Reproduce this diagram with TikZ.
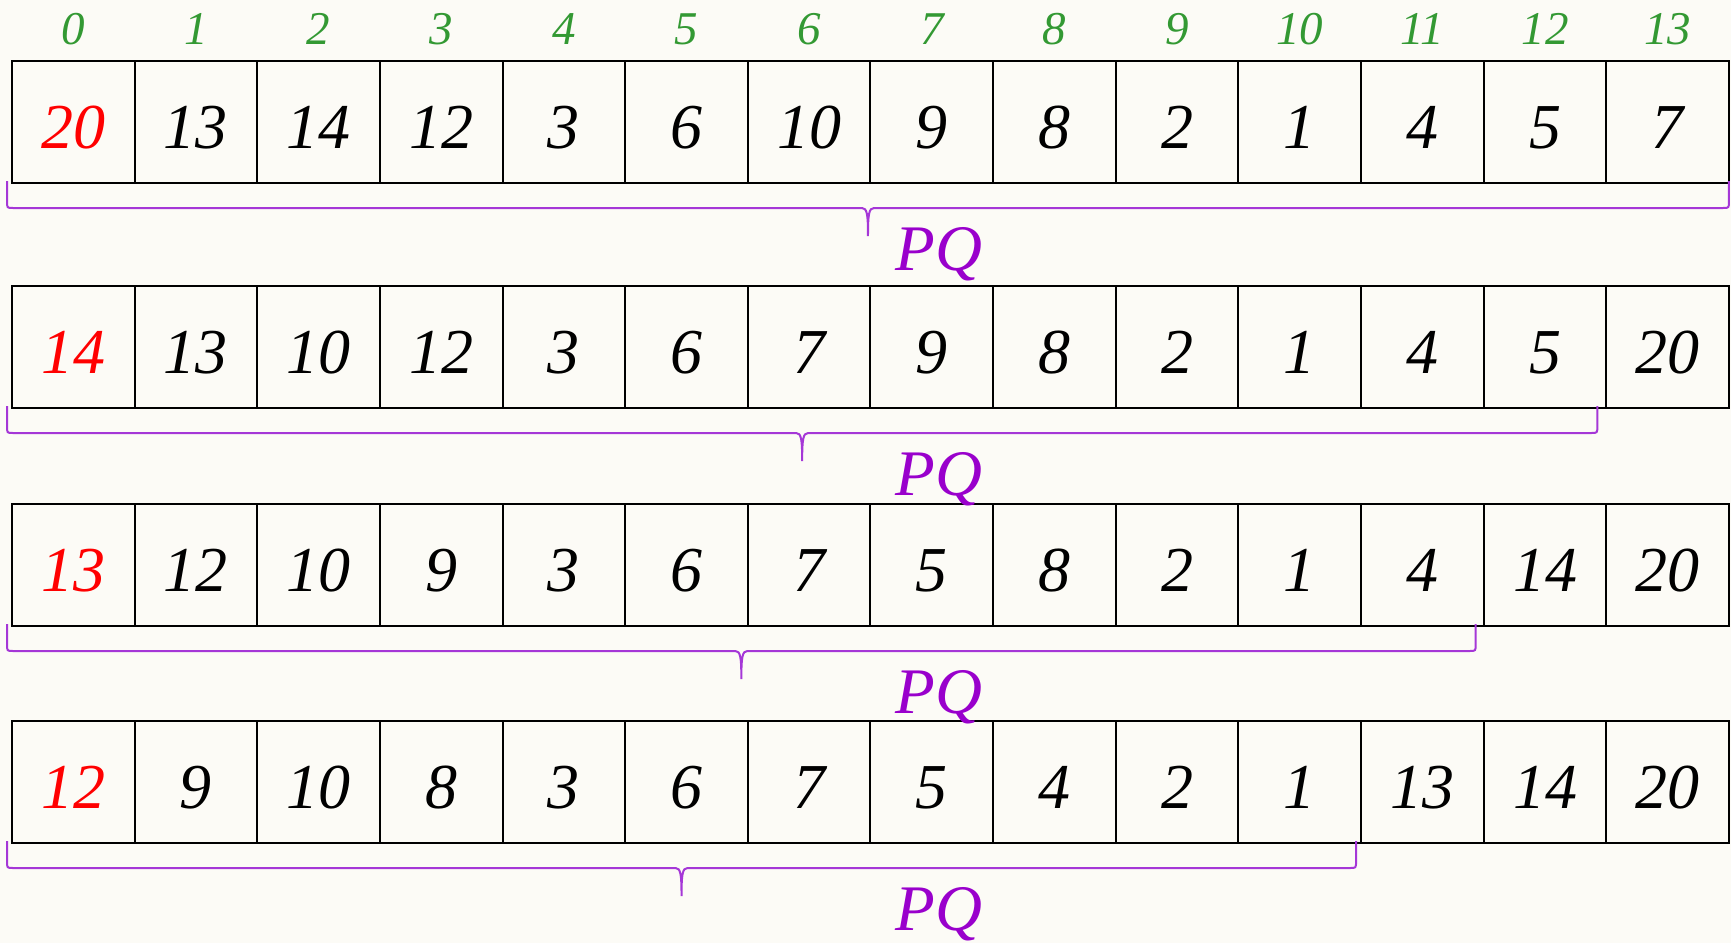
\documentclass[tikz,border=0pt]{standalone}
\usepackage{fontspec}
\setmainfont{Liberation Serif}
\usetikzlibrary{positioning,calc}
\definecolor{paper}{RGB}{252,251,246}
\definecolor{idxgreen}{RGB}{51,153,51}
\definecolor{maxred}{RGB}{255,0,0}
\definecolor{pqviolet}{RGB}{153,0,204}
\definecolor{bracecol}{RGB}{165,55,215}

\begin{document}
\begin{tikzpicture}[
  x=1pt,y=1pt,
  cell/.style={draw,line width=2pt,inner sep=0pt,outer sep=0pt,
               minimum width=122.64pt,minimum height=122pt,
               text height=52pt,text depth=0pt,
               font=\fontsize{64}{70}\selectfont\itshape},
  maxcell/.style={text=maxred},
  idx/.style={inner sep=0pt,text=idxgreen,
              font=\fontsize{47}{52}\selectfont\itshape},
  pq/.style={inner sep=0pt,text=pqviolet,
             font=\fontsize{65}{70}\selectfont\itshape},
  brace/.style={draw=bracecol,line width=2pt}
]
\fill[paper] (0,0) rectangle (1731,-943);
\useasboundingbox (0,0) rectangle (1731,-943);

% row 1
\node[cell,maxcell] (r1c0) at (73.32,-122) {20};
\foreach \v [count=\c from 1, evaluate=\c as \p using int(\c-1)] in {13,14,12,3,6,10,9,8,2,1,4,5,7}
  \node[cell,right=0pt of r1c\p] (r1c\c) {\v};
% row 2
\node[cell,maxcell,below=103pt of r1c0] (r2c0) {14};
\foreach \v [count=\c from 1, evaluate=\c as \p using int(\c-1)] in {13,10,12,3,6,7,9,8,2,1,4,5,20}
  \node[cell,right=0pt of r2c\p] (r2c\c) {\v};
% row 3
\node[cell,maxcell,below=96pt of r2c0] (r3c0) {13};
\foreach \v [count=\c from 1, evaluate=\c as \p using int(\c-1)] in {12,10,9,3,6,7,5,8,2,1,4,14,20}
  \node[cell,right=0pt of r3c\p] (r3c\c) {\v};
% row 4
\node[cell,maxcell,below=95pt of r3c0] (r4c0) {12};
\foreach \v [count=\c from 1, evaluate=\c as \p using int(\c-1)] in {9,10,8,3,6,7,5,4,2,1,13,14,20}
  \node[cell,right=0pt of r4c\p] (r4c\c) {\v};

% indices
\foreach \c in {0,...,13}
  \node[idx,above=16pt of r1c\c] (idx\c) {\c};

% braces and labels
\coordinate (pqx) at (939,0);
\foreach \row/\e/\dx in {1/13/0,2/12/-9,3/11/-8,4/10/-5} {
  \coordinate (bl\row) at ($(r\row c0.south west)+(-5,2)$);
  \coordinate (br\row) at ($(r\row c\e.south east)+(\dx,2)$);
  \draw[brace] let \p1=(bl\row), \p2=(br\row), \n1={0.5*(\x1+\x2)} in
    (\p1) -- (\x1,\y1-20pt) .. controls (\x1,\y1-27pt) .. (\x1+6pt,\y1-27pt)
    -- (\n1-6,\y1-27pt) .. controls (\n1-1,\y1-27pt) and (\n1,\y1-33pt) .. (\n1,\y1-55pt)
    .. controls (\n1,\y1-33pt) and (\n1+1,\y1-27pt) .. (\n1+6,\y1-27pt)
    -- (\x2-6pt,\y1-27pt) .. controls (\x2,\y1-27pt) .. (\x2,\y1-20pt) -- (\p2);
  \node[pq,anchor=base,yshift=-87pt] (pq\row) at (pqx |- r\row c0.south) {PQ};
}
\end{tikzpicture}
\end{document}
